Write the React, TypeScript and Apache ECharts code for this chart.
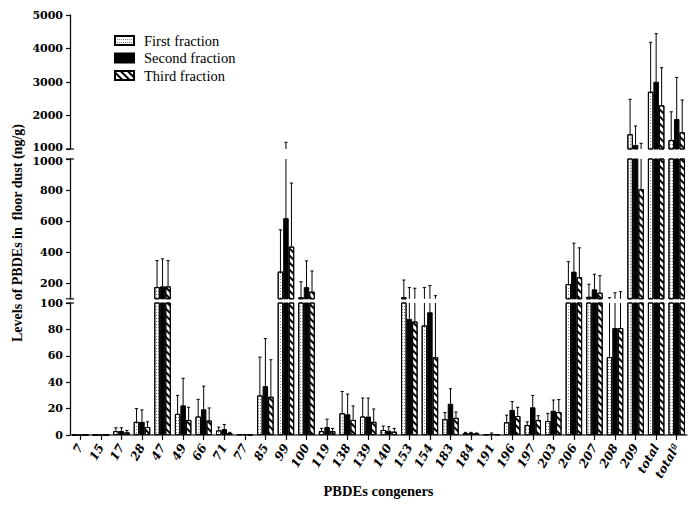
import { useEffect, useRef } from 'react';
import * as echarts from 'echarts';

const categories = ['7','15','17','28','47','49','66','71','77','85','99','100','119','138','139','140','153','154','183','184','191','196','197','203','206','207','208','209','total','totalª'];
const seriesNames = ['First fraction', 'Second fraction', 'Third fraction'];

const firstMean = [0,0,3,10,176,16,14,3.5,0.5,30,275,110,3,16.5,14,3.8,110,83,12,1.5,0.5,9.6,7.6,10.6,195,113,59,1440,2710,1270];
const firstSD = [0,0,2.5,10,170,14,13,2.5,0,29,269,100,2,16.5,14,3,111,89,5,0.5,0,5.4,2.4,5.8,144,81,48,1044,1475,840];
const secondMean = [0,0,3,10,180,22.5,19.5,4.5,0.5,37,619,175,6,15.7,14,3.3,88,93,23.7,1.5,0.8,19,21,18.4,275,161,81,1120,3009,1896];
const secondSD = [0,0,2.5,9,177,20.5,17.5,3.5,0,36,581,169,6,15.3,14,3,84,92,11.3,0.5,0.7,6.3,9,8.1,183,97,58,567,1433,1241];
const thirdMean = [0,0,2,6,180,11.4,11,1.5,0.3,29,436,146,3,11.4,10,2.5,86,59,13,1.2,0.5,14.4,11.4,17.4,239,139,81,806,2304,1498];
const thirdSD = [0,0,1.5,4,166,9.6,9.5,0.5,0,28,409,133,2,10.6,9.7,2.5,82,61,4.4,0.3,0,6.6,3.2,9.4,189,110,65,364,1123,965];

const bottomTicks = [0, 20, 40, 60, 80, 100];
const middleTicks = [200, 400, 600, 800, 1000];
const topTicks = [1000, 2000, 3000, 4000, 5000];

const means = [firstMean, secondMean, thirdMean];
const sds = [firstSD, secondSD, thirdSD];

const BAR_W = 5.5;
const LABEL_FONT = '"DejaVu Serif", serif';
const TITLE_FONT = '"Liberation Serif", "Times New Roman", serif';

const gridDefs = [
  { left: 70, width: 617, top: 303, height: 132 },
  { left: 70, width: 617, top: 159, height: 139.8 },
  { left: 70, width: 617, top: 15, height: 134 },
];

const itemStyles: any[] = [
  {
    color: '#fff', borderColor: '#000', borderWidth: 1,
    decal: { symbol: 'rect', symbolSize: 1, color: '#808080', dashArrayX: [1, 1], dashArrayY: [1, 2] },
  },
  { color: '#000', borderColor: '#000', borderWidth: 1 },
  {
    color: '#fff', borderColor: '#000', borderWidth: 1,
    decal: { symbol: 'rect', symbolSize: 1, color: '#000', dashArrayX: [1, 0], dashArrayY: [2, 3], rotation: Math.PI / 4 },
  },
];

const labelFontStyle = { fontFamily: LABEL_FONT, fontWeight: 'bold', fontSize: 11, color: '#000' };

export default function App() {
  const ref = useRef<HTMLDivElement>(null);
  useEffect(() => {
    const chart = echarts.init(ref.current!, null, { renderer: 'svg' });

    const yAxisCommon = {
      type: 'value',
      splitLine: { show: false },
      axisLine: { show: true, lineStyle: { color: '#111', width: 1.3 } },
      axisTick: { show: true, length: 4, lineStyle: { color: '#111', width: 1.2 } },
      axisLabel: {
        ...labelFontStyle, margin: 7, lineHeight: 9,
        formatter: (v: number) => String(v),
        rich: {
          up: { ...labelFontStyle, lineHeight: 9, padding: [0, 0, 4, 0] },
          dn: { ...labelFontStyle, lineHeight: 9, padding: [4, 0, 0, 0] },
        },
      },
    };

    const series: any[] = [];
    for (let g = 0; g < 3; g++) {
      for (let k = 0; k < 3; k++) {
        series.push({
          type: 'bar',
          name: seriesNames[k],
          xAxisIndex: g,
          yAxisIndex: g,
          data: means[k],
          barWidth: BAR_W,
          barGap: '0%',
          clip: true,
          itemStyle: itemStyles[k],
          emphasis: { disabled: true },
        });
      }
    }
    for (let g = 0; g < 3; g++) {
      for (let k = 0; k < 3; k++) {
        const kk = k;
        series.push({
          type: 'custom',
          xAxisIndex: g,
          yAxisIndex: g,
          z: 5,
          silent: true,
          data: categories.map((_, i) => [i, means[kk][i], sds[kk][i]]),
          renderItem: (params: any, api: any) => {
            const i = api.value(0);
            const m = api.value(1);
            const sd = api.value(2);
            if (!(sd > 0)) return null;
            const base = api.coord([i, m]);
            const top = api.coord([i, m + sd]);
            const cs = params.coordSys;
            const x = base[0] + (kk - 1) * BAR_W;
            const y1 = Math.min(base[1], cs.y + cs.height);
            const y2 = Math.max(top[1], cs.y);
            if (y2 >= y1) return null;
            const children: any[] = [
              { type: 'line', shape: { x1: x, y1, x2: x, y2 }, style: { stroke: '#000', lineWidth: 1 } },
            ];
            if (top[1] >= cs.y - 0.5 && top[1] <= cs.y + cs.height) {
              children.push({ type: 'line', shape: { x1: x - 1.6, y1: top[1], x2: x + 1.6, y2: top[1] }, style: { stroke: '#000', lineWidth: 1 } });
            }
            return { type: 'group', children };
          },
        });
      }
    }

    const breakLines = [303, 298.8, 159, 149].map((y) => ({
      type: 'line',
      shape: { x1: 66, y1: y, x2: 74, y2: y },
      style: { stroke: '#111', lineWidth: 1.2 },
    }));

    chart.setOption({
      animation: false,
      backgroundColor: '#fff',
      legend: {
        data: seriesNames,
        orient: 'vertical',
        left: 109,
        top: 28,
        itemWidth: 19,
        itemHeight: 9,
        itemGap: 2.5,
        icon: 'rect',
        selectedMode: false,
        textStyle: { fontFamily: TITLE_FONT, fontSize: 14.5, color: '#000', padding: [0, 0, 0, 5] },
      },
      grid: gridDefs,
      xAxis: [0, 1, 2].map((g) => ({
        type: 'category',
        gridIndex: g,
        data: categories,
        show: g === 0,
        axisLine: { show: true, lineStyle: { color: '#444', width: 1.5 } },
        axisTick: { show: true, alignWithLabel: true, length: 5, lineStyle: { color: '#111', width: 1.2 } },
        axisLabel: {
          interval: 0, rotate: 60, margin: 10, color: '#000',
          fontFamily: LABEL_FONT, fontWeight: 'bold', fontStyle: 'italic', fontSize: 12,
        },
        name: g === 0 ? 'PBDEs congeners' : '',
        nameLocation: 'middle',
        nameGap: 40,
        nameTextStyle: { fontFamily: TITLE_FONT, fontWeight: 'bold', fontSize: 14.5, color: '#000' },
      })),
      yAxis: [
        { ...yAxisCommon, gridIndex: 0, min: 0, max: 100, interval: 20,
          axisLabel: { ...yAxisCommon.axisLabel, customValues: bottomTicks },
          axisTick: { ...yAxisCommon.axisTick, customValues: bottomTicks } },
        { ...yAxisCommon, gridIndex: 1, min: 100, max: 1000,
          axisLabel: { ...yAxisCommon.axisLabel, customValues: middleTicks,
            formatter: (v: number) => (v === 1000 ? '{dn|1000}' : String(v)) },
          axisTick: { ...yAxisCommon.axisTick, customValues: middleTicks } },
        { ...yAxisCommon, gridIndex: 2, min: 1000, max: 5000, interval: 1000,
          axisLabel: { ...yAxisCommon.axisLabel, customValues: topTicks,
            formatter: (v: number) => (v === 1000 ? '{up|1000}' : String(v)) },
          axisTick: { ...yAxisCommon.axisTick, customValues: topTicks } },
      ],
      graphic: [
        {
          type: 'text',
          x: 17,
          y: 233,
          rotation: Math.PI / 2,
          style: {
            text: 'Levels of PBDEs in  floor dust (ng/g)',
            font: 'bold 14px "Liberation Serif", "Times New Roman", serif',
            fill: '#000',
            textAlign: 'center',
            textVerticalAlign: 'middle',
          },
        },
        ...breakLines,
      ],
      series,
    });

    return () => chart.dispose();
  }, []);

  return (
    <div
      ref={ref}
      style={{ position: 'absolute', left: 0, top: 0, width: 699, height: 505, background: '#fff' }}
    />
  );
}
